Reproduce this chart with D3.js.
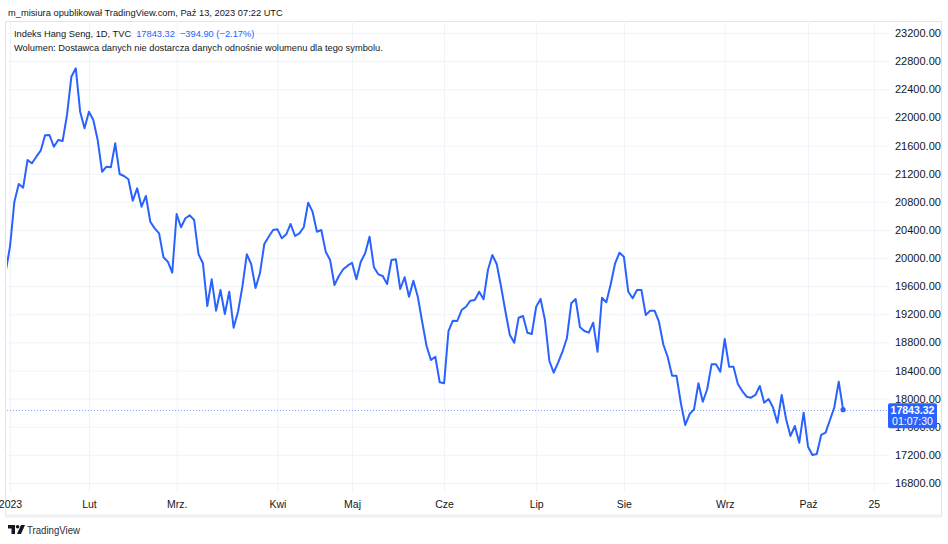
<!DOCTYPE html>
<html>
<head>
<meta charset="utf-8">
<script src="https://cdn.jsdelivr.net/npm/d3@7"></script>
<style>
  body { margin: 0; background: #ffffff; }
  svg { display: block; font-family: "Liberation Sans", Arial, sans-serif; }
</style>
</head>
<body>
<svg id="chart" width="948" height="544"></svg>
<script>
// daily closes, first value is the last bar of 2022 (partly out of view)
var closes = [
  19800,
  20161, 20801, 21052, 21000, 21394, 21347, 21441, 21526, 21745, 21749,
  21583, 21678, 21664, 22034, 22578, 22698, 22081, 21845, 22081, 21963,
  21678, 21227, 21299, 21290, 21631, 21195, 21166, 21119, 20815, 20991,
  20730, 20882, 20516, 20422, 20351, 20010, 19947, 19791, 20626, 20437,
  20565, 20607, 20540, 20053, 19925, 19317, 19697, 19251, 19545, 19204,
  19521, 19009, 19236, 19592, 20053, 19915, 19573, 19782, 20199, 20303,
  20398, 20408, 20280, 20337, 20484, 20313, 20351, 20437, 20787, 20659,
  20374, 20398, 20090, 19972, 19616, 19744, 19839, 19891, 19933, 19697,
  19947, 20067, 20303, 19868, 19768, 19744, 19630, 19972, 19981, 19559,
  19726, 19450, 19677, 19450, 19094, 18748, 18549, 18596, 18232, 18218,
  18960, 19108, 19104, 19260, 19307, 19393, 19403, 19521, 19413, 19829,
  20043, 19915, 19592, 19236, 18905, 18795, 19151, 19175, 18938, 18919,
  19307, 19417, 19118, 18539, 18369, 18511, 18667, 18858, 19356, 19417,
  19014, 18962, 18938, 19080, 18667, 19435, 19370, 19626, 19925, 20075,
  20019, 19521, 19427, 19545, 19545, 19189, 19251, 19251, 19094, 18770,
  18592, 18326, 18326, 17934, 17625, 17781, 17848, 18218, 17956, 18133,
  18488, 18488, 18383, 18848, 18454, 18454, 18208, 18108, 18027, 18013,
  18052, 18180, 17942, 17995, 17877, 17658, 18052, 17706, 17469, 17611,
  17373, 17800, 17316, 17198, 17212, 17483, 17516, 17696, 17877, 18241,
  17843.32
];
var firstIndex = -1;

var priceTicks = [16800, 17200, 17600, 18000, 18400, 18800, 19200, 19600, 20000,
  20400, 20800, 21200, 21600, 22000, 22400, 22800, 23200];
var monthTickIndex = [0, 18, 38, 61, 78, 99, 120, 140, 163, 182, 197];
var monthTickLabels = ["2023", "Lut", "Mrz.", "Kwi", "Maj", "Cze", "Lip", "Sie", "Wrz", "Pa\u017a", "25"];

var lastValue = 17843.32;
var change = "\u2212394.90 (\u22122.17%)";
var countdown = "01:07:30";

var svg = d3.select("#chart");

// pane box
var pane = { l: 5, t: 21, r: 889, b: 493 };
var frame = { l: 5, t: 21, r: 941, b: 516 };

var blue = "#2962ff";
var gridColor = "#f0f3fa";
var textColor = "#131722";

var xScale = d3.scaleLinear().domain([0, 197]).range([10, 873.8]);
var yScale = d3.scaleLinear().domain([16800, 23200]).range([483, 33]);

// header
svg.append("text")
  .attr("x", 8)
  .attr("y", 16)
  .style("font-size", "9.3px")
  .attr("fill", textColor)
  .text("m_misiura opublikowa\u0142 TradingView.com, Pa\u017a 13, 2023 07:22 UTC");

// frame
svg.append("rect")
  .attr("x", frame.l + 0.5)
  .attr("y", frame.t + 0.5)
  .attr("width", frame.r - frame.l)
  .attr("height", frame.b - frame.t)
  .attr("fill", "none")
  .attr("stroke", "#e0e3eb");

svg.append("line")
  .attr("x1", frame.l).attr("x2", frame.r + 1)
  .attr("y1", frame.b).attr("y2", frame.b)
  .attr("stroke", "#eef0f4")
  .attr("stroke-width", 3);

// grid
var gridY = svg.append("g")
  .attr("transform", `translate(${pane.l},0)`)
  .call(d3.axisRight(yScale).tickValues(priceTicks).tickSize(pane.r - pane.l).tickFormat(""));
gridY.select(".domain").remove();
gridY.selectAll("line").attr("stroke", gridColor);

var gridX = svg.append("g")
  .attr("transform", `translate(0,${pane.t})`)
  .call(d3.axisBottom(xScale).tickValues(monthTickIndex).tickSize(pane.b - pane.t).tickFormat(""));
gridX.select(".domain").remove();
gridX.selectAll("line").attr("stroke", gridColor);

// clip for the line
svg.append("clipPath").attr("id", "paneClip")
  .append("rect")
  .attr("x", pane.l + 2).attr("y", pane.t)
  .attr("width", pane.r - pane.l - 2).attr("height", pane.b - pane.t);

var line = d3.line()
  .x((d, i) => xScale(i + firstIndex))
  .y(d => yScale(d));

// last price dotted line
var lastY = Math.round(yScale(lastValue)) + 0.5;
svg.append("line")
  .attr("x1", pane.l + 2).attr("x2", pane.r)
  .attr("y1", lastY).attr("y2", lastY)
  .attr("stroke", blue)
  .attr("stroke-opacity", 0.55)
  .attr("stroke-width", 1)
  .attr("stroke-dasharray", "1,2");

svg.append("path")
  .datum(closes)
  .attr("clip-path", "url(#paneClip)")
  .attr("fill", "none")
  .attr("stroke", blue)
  .attr("stroke-width", 2)
  .attr("stroke-linejoin", "round")
  .attr("d", line);

svg.append("circle")
  .attr("cx", xScale(closes.length - 1 + firstIndex))
  .attr("cy", yScale(lastValue))
  .attr("r", 2.6)
  .attr("fill", blue);

// price axis
var yAxis = svg.append("g")
  .attr("transform", `translate(${pane.r + 3},0)`)
  .call(d3.axisRight(yScale).tickValues(priceTicks).tickSize(0).tickFormat(d3.format(".2f")));
yAxis.select(".domain").remove();
yAxis.selectAll("text")
  .attr("fill", textColor)
  .style("font-size", "11px")
  .style("font-family", "'Liberation Sans', Arial, sans-serif");

// time axis
var xAxis = svg.append("g")
  .attr("transform", `translate(0,${pane.b})`)
  .call(d3.axisBottom(xScale).tickValues(monthTickIndex).tickSize(0)
    .tickFormat((d, i) => monthTickLabels[i]));
xAxis.select(".domain").remove();
xAxis.selectAll("text")
  .attr("fill", textColor)
  .attr("dy", "0.71em")
  .attr("y", 8)
  .style("font-size", "10.5px")
  .style("font-family", "'Liberation Sans', Arial, sans-serif");

// last price label
var tag = svg.append("g")
  .attr("transform", `translate(888,${yScale(lastValue) - 6.5})`);
tag.append("rect")
  .attr("width", 49).attr("height", 25).attr("rx", 2)
  .attr("fill", blue);
tag.append("text")
  .attr("x", 24.5).attr("y", 10.5)
  .attr("text-anchor", "middle")
  .attr("fill", "#ffffff")
  .style("font-size", "10.5px")
  .style("font-weight", "bold")
  .text(d3.format(".2f")(lastValue));
tag.append("text")
  .attr("x", 24.5).attr("y", 21.5)
  .attr("text-anchor", "middle")
  .attr("fill", "#ffffff")
  .style("font-size", "10.5px")
  .text(countdown);

// legend, pieces laid out one after another
var legendParts = [
  { color: textColor, text: "Indeks Hang Seng, 1D, TVC" },
  { color: blue, text: d3.format(".2f")(lastValue) },
  { color: blue, text: change }
];
var legendX = 14;
legendParts.forEach(function (p) {
  var t = svg.append("text")
    .attr("x", legendX)
    .attr("y", 37)
    .style("font-size", "9.3px")
    .attr("fill", p.color)
    .text(p.text);
  legendX += t.node().getComputedTextLength() + 5;
});

svg.append("text")
  .attr("x", 14)
  .attr("y", 51)
  .style("font-size", "9.3px")
  .attr("fill", textColor)
  .text("Wolumen: Dostawca danych nie dostarcza danych odno\u015bnie wolumenu dla tego symbolu.");

// TradingView mark
var logo = svg.append("g").attr("transform", "translate(8,525)");
logo.append("path")
  .attr("d", "M0,0 H7 V9 H3.5 V3.5 H0 Z")
  .attr("fill", textColor);
logo.append("circle")
  .attr("cx", 9.6).attr("cy", 1.8).attr("r", 1.8)
  .attr("fill", textColor);
logo.append("path")
  .attr("d", "M13,0 H17 L13,9 H9 Z")
  .attr("fill", textColor);
svg.append("text")
  .attr("x", 27)
  .attr("y", 534)
  .attr("textLength", 53)
  .attr("lengthAdjust", "spacingAndGlyphs")
  .style("font-size", "11.5px")
  .attr("fill", "#2a2e39")
  .text("TradingView");
</script>
</body>
</html>
